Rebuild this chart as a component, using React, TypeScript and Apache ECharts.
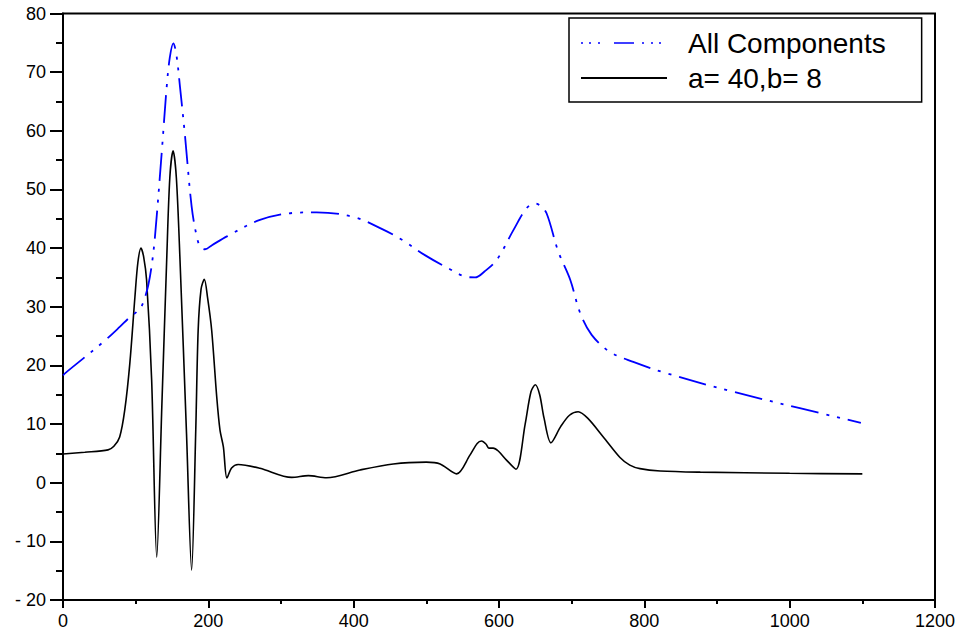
import React, { useEffect, useRef } from "react";
import * as echarts from "echarts";

const seriesNames = ["All Components", "a= 40,b= 8"];

const allComponents: [number, number][] = [
  [0, 18.3], [2.75, 18.65], [28, 21.2], [55.5, 24], [78.4, 26.6], [90, 28], [106, 29.7],
  [113, 31.7], [117.4, 33.7], [122, 37], [126.6, 42], [135.8, 56.2], [142.7, 67.5],
  [147, 72.5], [151.8, 74.9], [156, 73], [161, 67.5], [168, 59], [177, 47.1], [184, 42],
  [189, 40.2], [195.4, 39.8], [205, 40.5], [225.6, 42], [271, 44.8], [317, 46], [349, 46.1],
  [400, 45.3], [440, 43.2], [468, 41.3], [498, 38.8], [532.5, 36.4], [555, 35.1], [567, 35],
  [580, 36], [597, 38], [620, 43.1], [638, 46.8], [649.5, 47.6], [657, 47.2], [665.6, 45.9],
  [681.6, 39.4], [698, 34.6], [711.8, 28.9], [727.5, 25.2], [752.7, 22.3], [784.8, 20.6],
  [830.7, 18.65], [922.4, 15.5], [1014, 12.7], [1098, 10.2],
];

const component: [number, number][] = [
  [0, 4.9], [30, 5.2], [62, 5.6], [70, 6.2], [78, 7.8], [85, 12.4], [92, 20.4], [99, 31.7],
  [103, 37.5], [107.3, 40], [111, 38.5], [115, 34.6], [122, 17.5], [129, -12.7], [136, 13],
  [142.7, 38], [147, 52], [151.5, 56.6], [156, 52], [161, 38], [170, 8.3], [177, -14.9],
  [182.7, 9], [186, 26], [190, 33], [194.5, 34.7], [199, 31.5], [204.6, 26], [211.5, 14.7],
  [216, 9], [220.7, 6.1], [225.6, 0.8], [232, 2.5], [241, 3.1], [271, 2.45], [314.7, 0.9],
  [337.6, 1.2], [362.8, 0.85], [408.7, 2.17], [454.5, 3.2], [500, 3.5], [519, 3.2],
  [541.7, 1.5], [560, 4.7], [570, 6.7], [576, 7.1], [582, 6.6], [586, 5.9], [592, 5.9],
  [599, 5.4], [610, 3.9], [623.4, 2.3], [636, 10], [644, 15.5], [650, 16.7], [656, 15],
  [662, 11], [671.5, 6.8], [685, 9.6], [697, 11.5], [709, 12.1], [722, 11], [743.5, 7.8],
  [766.5, 4.3], [780, 3.0], [794, 2.4], [822, 2.0], [877, 1.8], [1000, 1.6], [1100, 1.5],
];

const xTicks = { min: 0, max: 1200, interval: 200 };
const yTicks = { min: -20, max: 80, interval: 10 };

const FONT = "Liberation Sans, Arial, sans-serif";

export default function App() {
  const ref = useRef<HTMLDivElement>(null);
  useEffect(() => {
    if (!ref.current) return;
    const chart = echarts.init(ref.current, undefined, { renderer: "svg" });
    chart.setOption({
      animation: false,
      backgroundColor: "#fff",
      grid: {
        left: 63, right: 25, top: 13.5, bottom: 36,
        show: true, borderColor: "#000", borderWidth: 2, backgroundColor: "transparent",
      },
      legend: {
        orient: "vertical",
        left: 569,
        top: 18,
        padding: [10, 36, 9, 11],
        borderColor: "#000",
        borderWidth: 1.5,
        backgroundColor: "#fff",
        itemWidth: 86,
        itemHeight: 14,
        itemGap: 5,
        itemStyle: { opacity: 0, borderWidth: 0, color: "transparent" },
        textStyle: { fontFamily: FONT, fontSize: 28, color: "#000", lineHeight: 30, padding: [0, 0, 0, 16] },
        data: [
          { name: seriesNames[0], lineStyle: { type: [2, 6, 2, 7, 2, 14, 20, 8, 2, 7, 2, 6, 2, 20], color: "#0000ff", width: 1.5 } },
          { name: seriesNames[1] },
        ],
      },
      xAxis: {
        type: "value",
        min: xTicks.min, max: xTicks.max, interval: xTicks.interval,
        axisLine: { show: true, onZero: false, lineStyle: { color: "#000", width: 2 } },
        axisTick: { show: true, length: 8, lineStyle: { color: "#000", width: 2 } },
        minorTick: { show: true, splitNumber: 2, length: 4, lineStyle: { color: "#000", width: 2 } },
        splitLine: { show: false },
        axisLabel: { color: "#000", fontFamily: FONT, fontSize: 18, margin: 12, formatter: (v: number) => String(v) },
      },
      yAxis: {
        type: "value",
        min: yTicks.min, max: yTicks.max, interval: yTicks.interval,
        axisLine: { show: true, onZero: false, lineStyle: { color: "#000", width: 2 } },
        axisTick: { show: true, length: 13, lineStyle: { color: "#000", width: 2 } },
        minorTick: { show: true, splitNumber: 2, length: 7, lineStyle: { color: "#000", width: 2 } },
        splitLine: { show: false },
        axisLabel: {
          color: "#000", fontFamily: FONT, fontSize: 18, margin: 17,
          formatter: (v: number) => (v < 0 ? "- " + Math.abs(v) : String(v)),
        },
      },
      series: [
        {
          name: seriesNames[0],
          type: "line",
          data: allComponents,
          symbol: "none",
          smooth: 0.35,
          lineStyle: { color: "#0000ff", width: 1.8, type: [28, 8, 3, 8, 3, 8] },
          itemStyle: { color: "#0000ff" },
          z: 3,
        },
        {
          name: seriesNames[1],
          type: "line",
          data: component,
          symbol: "none",
          smooth: 0.3,
          lineStyle: { color: "#000", width: 1.6 },
          itemStyle: { color: "#000" },
          z: 2,
        },
      ],
    });
    return () => chart.dispose();
  }, []);
  return <div ref={ref} style={{ width: 960, height: 636, position: "absolute", left: 0, top: 0 }} />;
}
